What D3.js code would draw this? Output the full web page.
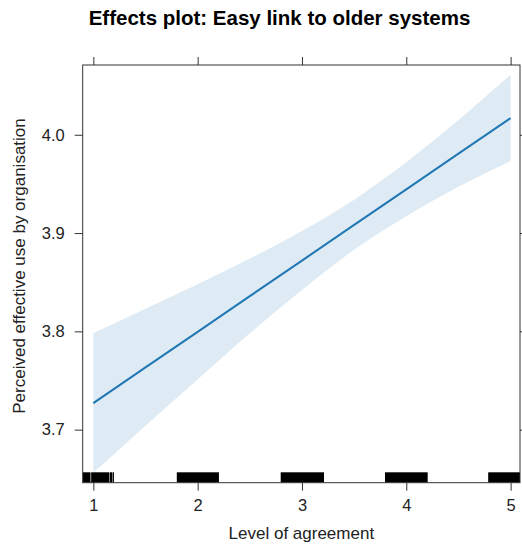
<!DOCTYPE html>
<html>
<head>
<meta charset="utf-8">
<script src="https://cdn.jsdelivr.net/npm/d3@7"></script>
<style>
  body { margin: 0; background: #fff; }
  svg { display: block; font-family: "Liberation Sans", Arial, sans-serif; }
  .ejes path, .ejes line { stroke: #333; }
  .ejes text { fill: #222; font-size: 16.5px; }
</style>
</head>
<body>
<div id="graf"></div>
<script>
// effect estimates along the level of agreement
const xs = [1, 1.5, 2, 2.5, 3, 3.5, 4, 4.5, 5]
const fit = [3.727, 3.7633, 3.7995, 3.8358, 3.872, 3.9083, 3.9445, 3.9808, 4.017]
const lower = [3.656, 3.704, 3.751, 3.798, 3.842, 3.883, 3.917, 3.947, 3.973]
const upper = [3.798, 3.823, 3.848, 3.874, 3.902, 3.934, 3.972, 4.015, 4.061]
const xTicks = [1, 2, 3, 4, 5]
const yTicks = [3.7, 3.8, 3.9, 4.0]
// rug of jittered observations, drawn as solid spans
const rugSpans = [
  [0.8, 0.973], [0.979, 1.151], [1.156, 1.184], [1.189, 1.198],
  [1.8, 2.204], [2.796, 3.211], [3.796, 4.205], [4.785, 5.2]
]

const anchoTotal = 522
const altoTotal = 548
const panel = { left: 82.7, top: 65, right: 520, bottom: 482.7 }

const svg = d3.select("#graf")
  .append("svg")
  .attr("width", anchoTotal)
  .attr("height", altoTotal)

const x = d3.scaleLinear().domain([0.898, 5.09]).range([panel.left, panel.right])
const y = d3.scaleLinear().domain([3.646, 4.071]).range([panel.bottom, panel.top])

svg.append("clipPath")
  .attr("id", "clip")
  .append("rect")
  .attr("x", panel.left)
  .attr("y", panel.top)
  .attr("width", panel.right - panel.left)
  .attr("height", panel.bottom - panel.top)

const datos = xs.map((v, i) => ({ x: v, fit: fit[i], lo: lower[i], hi: upper[i] }))

// confidence band
svg.append("path")
  .datum(datos)
  .attr("clip-path", "url(#clip)")
  .attr("fill", "#1f77b4")
  .attr("fill-opacity", 0.15)
  .attr("d", d3.area()
    .curve(d3.curveMonotoneX)
    .x(d => x(d.x))
    .y0(d => y(d.lo))
    .y1(d => y(d.hi)))

// fitted line
svg.append("path")
  .datum(datos)
  .attr("fill", "none")
  .attr("stroke", "#1f77b4")
  .attr("stroke-width", 2)
  .attr("d", d3.line().x(d => x(d.x)).y(d => y(d.fit)))

// rug
svg.append("g")
  .attr("clip-path", "url(#clip)")
  .selectAll("rect")
  .data(rugSpans)
  .join("rect")
  .attr("x", d => x(d[0]))
  .attr("width", d => x(d[1]) - x(d[0]))
  .attr("y", panel.bottom - 10.4)
  .attr("height", 10.4)
  .attr("fill", "#000")

// axes
svg.append("g")
  .attr("class", "ejes")
  .attr("transform", `translate(0, ${panel.bottom})`)
  .call(d3.axisBottom(x).tickValues(xTicks).tickFormat(d3.format("d")).tickSize(8).tickPadding(9).tickSizeOuter(0))
  .call(g => g.select(".domain").remove())

svg.append("g")
  .attr("class", "ejes")
  .attr("transform", `translate(0, ${panel.top})`)
  .call(d3.axisTop(x).tickValues(xTicks).tickFormat("").tickSize(8).tickSizeOuter(0))
  .call(g => g.select(".domain").remove())

svg.append("g")
  .attr("class", "ejes")
  .attr("transform", `translate(${panel.left}, 0)`)
  .call(d3.axisLeft(y).tickValues(yTicks).tickFormat(d3.format(".1f")).tickSize(8).tickPadding(10).tickSizeOuter(0))
  .call(g => g.select(".domain").remove())

svg.append("g")
  .attr("class", "ejes")
  .attr("transform", `translate(${panel.right}, 0)`)
  .call(d3.axisRight(y).tickValues(yTicks).tickFormat("").tickSize(8).tickSizeOuter(0))
  .call(g => g.select(".domain").remove())

// panel box
svg.append("rect")
  .attr("x", panel.left)
  .attr("y", panel.top)
  .attr("width", panel.right - panel.left)
  .attr("height", panel.bottom - panel.top)
  .attr("fill", "none")
  .attr("stroke", "#333")
  .attr("stroke-width", 1)

// labels
svg.append("text")
  .attr("x", 279.5)
  .attr("y", 25)
  .attr("text-anchor", "middle")
  .attr("font-size", 20.5)
  .attr("font-weight", "bold")
  .attr("fill", "#000")
  .text("Effects plot: Easy link to older systems")

svg.append("text")
  .attr("x", (panel.left + panel.right) / 2)
  .attr("y", 538.5)
  .attr("text-anchor", "middle")
  .attr("font-size", 17)
  .attr("fill", "#222")
  .text("Level of agreement")

svg.append("text")
  .attr("transform", `translate(25, 266) rotate(-90)`)
  .attr("text-anchor", "middle")
  .attr("font-size", 17)
  .attr("fill", "#222")
  .text("Perceived effective use by organisation")
</script>
</body>
</html>
